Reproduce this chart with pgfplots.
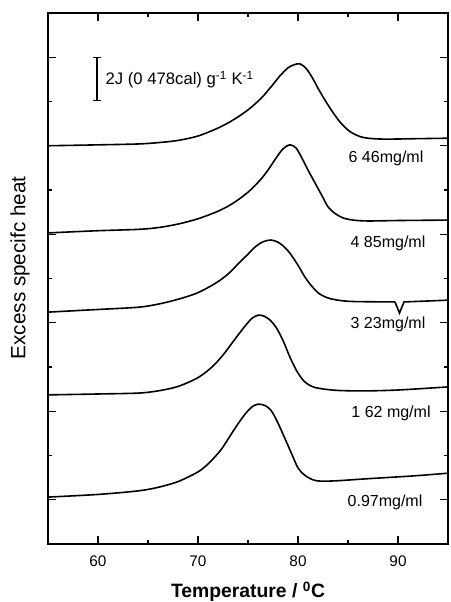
\documentclass[border=0pt]{standalone}
\usepackage{fontspec}
\setmainfont{Liberation Sans}
\usepackage{pgfplots}
\pgfplotsset{compat=1.18}
\usetikzlibrary{arrows.meta}
\begin{document}
\begin{tikzpicture}[mglabel/.style={font=\fontsize{12}{14}\selectfont, anchor=center}]
\useasboundingbox (-36pt,-43.5pt) rectangle (301.5pt,408pt);
\begin{axis}[
  width=300pt, height=398.25pt, scale only axis,
  xmin=55, xmax=95, ymin=0, ymax=12,
  axis line style={line width=1.1pt},
  xtick={60,70,80,90}, minor xtick={65,75,85},
  ytick={1,3,...,11}, yticklabels={}, minor ytick={2,4,...,10},
  tick align=inside,
  major tick length=6pt, minor tick length=3pt,
  every tick/.style={black, line width=0.9pt},
  ticklabel style={font=\fontsize{11.5}{13}\selectfont},
  xticklabel style={yshift=-5pt},
  /pgf/number format/assume math mode=true,
  xlabel={\textbf{Temperature / \textsuperscript{0}C}},
  ylabel={Excess specifc heat},
  xlabel style={font=\fontsize{14.5}{16}\selectfont, at={(axis description cs:0.5,-0.09)}, anchor=center},
  ylabel style={font=\fontsize{15.5}{17}\selectfont, at={(axis description cs:-0.07,0.52)}, anchor=center},
  every axis plot/.style={black, line width=1.2pt, no markers},
]
% 6.46 mg/ml
\addplot[smooth] coordinates {(55,9.00)(60,9.02)(64,9.04)(66,9.07)(68,9.12)(70,9.22)(72,9.40)(73.5,9.58)(75,9.81)(76.3,10.07)(77.3,10.33)(78.2,10.58)(79.0,10.76)(79.6,10.83)(80.2,10.85)(80.8,10.75)(81.4,10.55)(82.0,10.30)(82.7,10.03)(83.5,9.75)(84.3,9.51)(85.2,9.32)(86.3,9.20)(87.5,9.16)(89,9.15)(92,9.16)(95,9.17)};
% 4.85 mg/ml
\addplot[smooth] coordinates {(55,7.03)(60,7.08)(64,7.11)(66,7.15)(68,7.23)(70,7.35)(72,7.52)(73.5,7.70)(75,7.95)(76.2,8.22)(77.0,8.45)(77.8,8.72)(78.5,8.93)(79.2,9.02)(79.8,8.95)(80.4,8.72)(81.0,8.45)(81.7,8.16)(82.4,7.87)(83.0,7.62)(83.7,7.47)(84.5,7.37)(85.5,7.32)(87,7.30)(90,7.31)(95,7.32)};
% 3.23 mg/ml
\addplot[smooth] coordinates {(55,5.24)(60,5.30)(64,5.35)(66,5.42)(68,5.53)(70,5.68)(71.8,5.90)(73,6.10)(74.1,6.35)(75.0,6.55)(75.7,6.71)(76.5,6.83)(77.3,6.87)(78.0,6.82)(78.6,6.72)(79.2,6.57)(80.0,6.30)(80.7,6.03)(81.4,5.82)(82.1,5.66)(83.0,5.56)(84,5.51)(85.5,5.48)(89.7,5.47)};
\addplot coordinates {(89.7,5.47)(90.15,5.22)(90.6,5.47)(95,5.51)};
% 1.62 mg/ml
\addplot[smooth] coordinates {(55,3.37)(60,3.39)(64,3.41)(66,3.46)(68,3.56)(70,3.76)(71.4,4.00)(72.5,4.27)(73.4,4.54)(74.2,4.78)(74.8,4.95)(75.4,5.10)(76.0,5.17)(76.6,5.15)(77.2,5.06)(77.8,4.90)(78.5,4.60)(79.2,4.22)(79.9,3.90)(80.6,3.68)(81.4,3.56)(82.3,3.51)(84,3.47)(86.6,3.46)(90,3.48)(95,3.55)};
% 0.97 mg/ml
\addplot[smooth] coordinates {(55,1.06)(60,1.12)(64,1.20)(66,1.28)(68,1.41)(70,1.63)(71.1,1.83)(72.3,2.13)(73.4,2.51)(74.2,2.78)(74.8,2.96)(75.4,3.10)(76.0,3.16)(76.7,3.13)(77.3,3.02)(77.9,2.78)(78.7,2.38)(79.4,2.02)(80.0,1.72)(80.7,1.55)(81.5,1.45)(82.3,1.42)(84,1.43)(86.6,1.47)(91.6,1.54)(95,1.60)};
\node[mglabel] at (axis cs:88.8,8.72) {6 46mg/ml};
\node[mglabel] at (axis cs:89.0,6.80) {4 85mg/ml};
\node[mglabel] at (axis cs:89.0,4.97) {3 23mg/ml};
\node[mglabel] at (axis cs:89.3,2.96) {1 62 mg/ml};
\node[mglabel] at (axis cs:88.7,0.95) {0.97mg/ml};
\draw[line width=0.9pt, {Bar[width=6pt]}-{Bar[width=6pt]}] (axis cs:59.9,10.0) -- (axis cs:59.9,11.0);
\node[anchor=west, font=\fontsize{12.5}{14}\selectfont] at (axis cs:60.3,10.49) {2J (0 478cal) g\textsuperscript{-1} K\textsuperscript{-1}};
\end{axis}
\end{tikzpicture}
\end{document}
